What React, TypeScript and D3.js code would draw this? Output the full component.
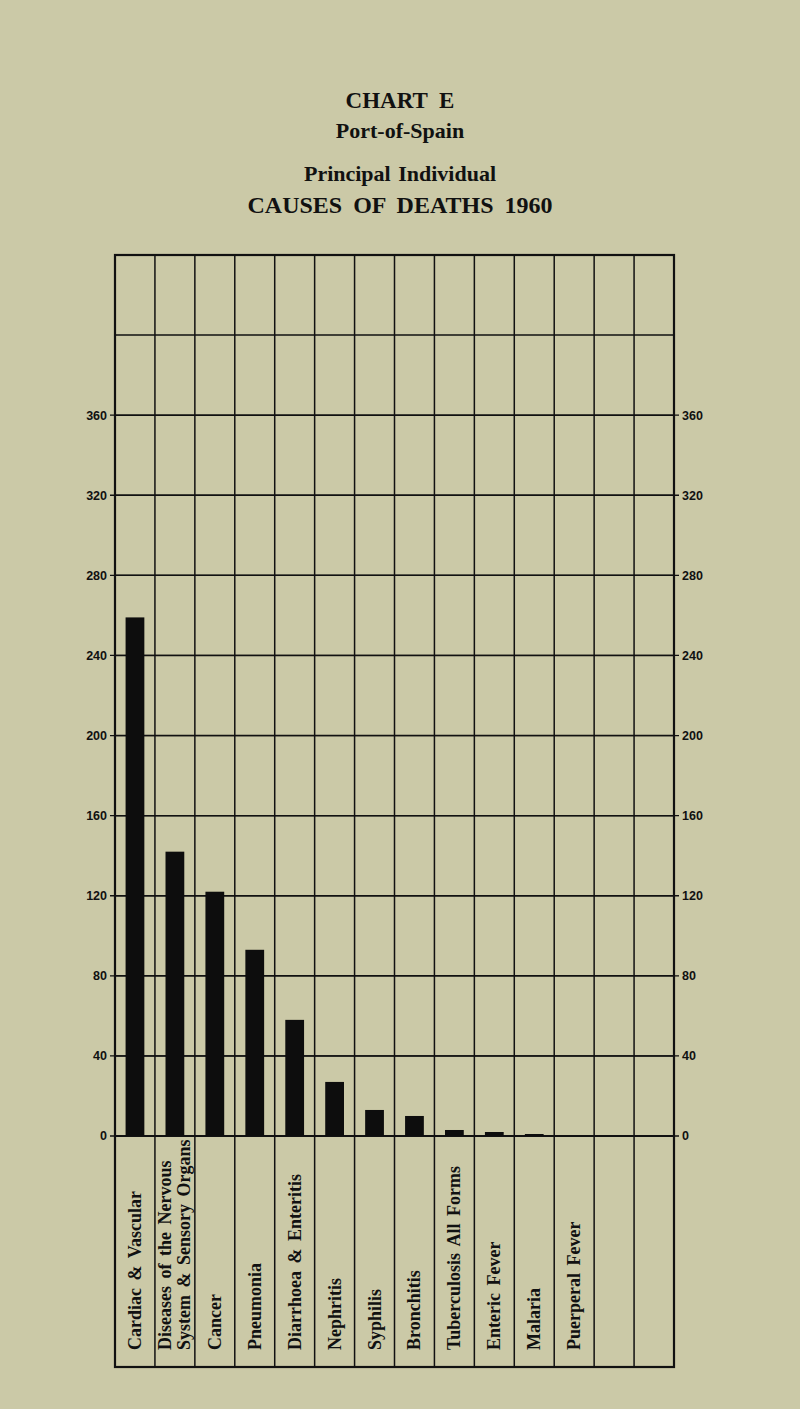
import React, { useEffect, useRef } from "react";
import * as d3 from "d3";

// chart data
const causes: string[][] = [
  ["Cardiac & Vascular"],
  ["Diseases of the Nervous", "System & Sensory Organs"],
  ["Cancer"],
  ["Pneumonia"],
  ["Diarrhoea & Enteritis"],
  ["Nephritis"],
  ["Syphilis"],
  ["Bronchitis"],
  ["Tuberculosis All Forms"],
  ["Enteric Fever"],
  ["Malaria"],
  ["Puerperal Fever"],
  [],
  [],
];
const deaths: (number | null)[] = [259, 142, 122, 93, 58, 27, 13, 10, 3, 2, 1, 0, null, null];
const yTicks: number[] = [0, 40, 80, 120, 160, 200, 240, 280, 320, 360];
const gridLines: number[] = [0, 40, 80, 120, 160, 200, 240, 280, 320, 360, 400, 440];
const titleLines: string[] = ["CHART E", "Port-of-Spain", "Principal Individual", "CAUSES OF DEATHS 1960"];

const W = 800;
const H = 1409;
const BG = "#cbc9a7";
const SERIF = "'Liberation Serif', 'DejaVu Serif', serif";
const SANS = "'Liberation Sans', Arial, sans-serif";

const App: React.FC = () => {
  const svgRef = useRef<SVGSVGElement>(null);

  useEffect(() => {
    document.body.style.margin = "0";
    document.body.style.background = BG;
    if (!svgRef.current) return;
    const svg = d3.select(svgRef.current);
    svg.selectAll("*").remove();

    svg.append("rect").attr("width", W).attr("height", H).attr("fill", BG);

    // 제목
    const titleY = [108, 138, 181, 213];
    const titleSize = [23, 22, 22, 24];
    const titleGap = [6, 2, 2, 5];
    svg
      .selectAll(".title")
      .data(titleLines)
      .enter()
      .append("text")
      .attr("x", 400)
      .attr("y", (d, i) => titleY[i])
      .attr("text-anchor", "middle")
      .style("font-family", SERIF)
      .style("font-weight", "bold")
      .style("font-size", (d, i) => titleSize[i] + "px")
      .style("word-spacing", (d, i) => titleGap[i] + "px")
      .style("fill", "#111")
      .text((d) => d);

    const left = 115;
    const right = 674;
    const bottomBox = 1367;

    const x = d3
      .scaleBand<number>()
      .domain(d3.range(causes.length))
      .range([left, right])
      .padding(0);
    const y = d3.scaleLinear().domain([0, 440]).range([1136, 255]);

    const g = svg.append("g");

    // horizontal grid
    g.selectAll(".hline")
      .data(gridLines)
      .enter()
      .append("line")
      .attr("x1", left)
      .attr("x2", right)
      .attr("y1", (d) => y(d))
      .attr("y2", (d) => y(d))
      .attr("stroke", "#111")
      .attr("stroke-width", 1.5);

    // tick stubs outside the frame
    g.selectAll(".stub")
      .data(yTicks)
      .enter()
      .append("line")
      .attr("x1", left - 5)
      .attr("x2", right + 5)
      .attr("y1", (d) => y(d))
      .attr("y2", (d) => y(d))
      .attr("stroke", "#111")
      .attr("stroke-width", 1.3);

    // vertical grid
    const xs = d3.range(causes.length + 1).map((i) => left + i * x.bandwidth());
    g.selectAll(".vline")
      .data(xs)
      .enter()
      .append("line")
      .attr("x1", (d) => d)
      .attr("x2", (d) => d)
      .attr("y1", y(440))
      .attr("y2", bottomBox)
      .attr("stroke", "#111")
      .attr("stroke-width", 1.5);

    // frame
    g.append("rect")
      .attr("x", left)
      .attr("y", y(440))
      .attr("width", right - left)
      .attr("height", bottomBox - y(440))
      .attr("fill", "none")
      .attr("stroke", "#111")
      .attr("stroke-width", 2.2);
    g.append("line")
      .attr("x1", left)
      .attr("x2", right)
      .attr("y1", y(0))
      .attr("y2", y(0))
      .attr("stroke", "#111")
      .attr("stroke-width", 2);

    // bars
    const barW = x.bandwidth() * 0.47;
    g.selectAll(".bar")
      .data(deaths.map((v, i) => ({ v, i })).filter((d) => d.v !== null && (d.v as number) > 0))
      .enter()
      .append("rect")
      .attr("x", (d) => (x(d.i) as number) + (x.bandwidth() - barW) / 2)
      .attr("y", (d) => y(d.v as number))
      .attr("width", barW)
      .attr("height", (d) => y(0) - y(d.v as number))
      .attr("fill", "#0d0d0d");

    // y labels both sides
    [
      { xp: 107, anchor: "end" },
      { xp: 682, anchor: "start" },
    ].forEach((side) => {
      g.selectAll(".ylab-" + side.anchor)
        .data(yTicks)
        .enter()
        .append("text")
        .attr("x", side.xp)
        .attr("y", (d) => y(d))
        .attr("dy", "0.35em")
        .attr("text-anchor", side.anchor)
        .style("font-family", SANS)
        .style("font-weight", "bold")
        .style("font-size", "12.5px")
        .style("fill", "#111")
        .text((d) => d);
    });

    // category labels, rotated
    causes.forEach((lines, i) => {
      const cx = (x(i) as number) + x.bandwidth() / 2;
      const n = lines.length;
      lines.forEach((line, j) => {
        const off = n === 1 ? 6 : (j - (n - 1) / 2) * 19 + 6;
        g.append("text")
          .attr("transform", `translate(${cx + off}, 1350) rotate(-90)`)
          .attr("text-anchor", "start")
          .style("font-family", SERIF)
          .style("font-weight", "bold")
          .style("font-size", "18px")
          .style("word-spacing", "3px")
          .style("fill", "#111")
          .text(line);
      });
    });
  }, []);

  return <svg ref={svgRef} width={W} height={H} style={{ display: "block" }} />;
};

export default App;
